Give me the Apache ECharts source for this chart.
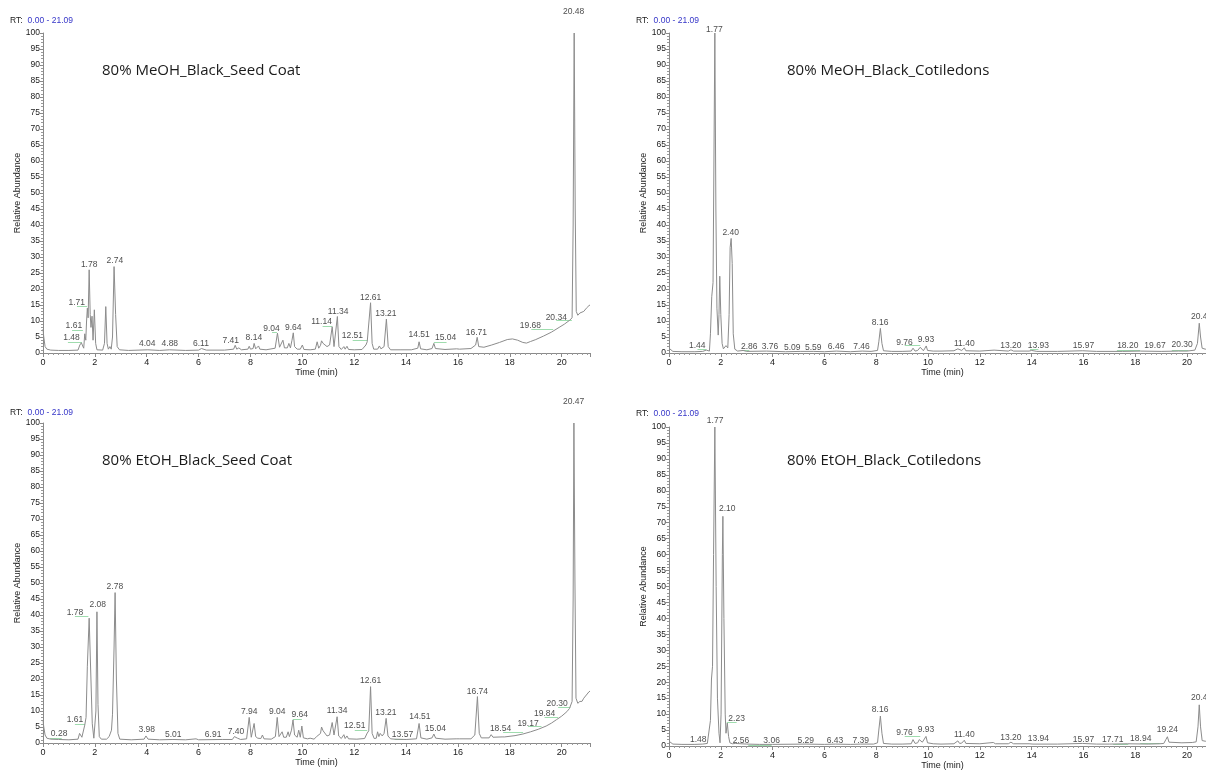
<!DOCTYPE html>
<html><head><meta charset="utf-8">
<script src="https://cdn.jsdelivr.net/npm/echarts@6/dist/echarts.min.js"></script>
<style>html,body{margin:0;padding:0;background:#fff}#c{width:1206px;height:772px}</style>
</head><body><div id="c"></div>
<script>
// ---------- DATA ----------
const titles = ["80% MeOH_Black_Seed Coat","80% MeOH_Black_Cotiledons","80% EtOH_Black_Seed Coat","80% EtOH_Black_Cotiledons"];
const rtRange = "0.00 - 21.09";
const xTickLabels = [0,2,4,6,8,10,12,14,16,18,20];
const yTickLabels = [0,5,10,15,20,25,30,35,40,45,50,55,60,65,70,75,80,85,90,95,100];

// trace: [time(min), relative abundance]
const p1Trace = [[0,7.5],[0.03,5],[0.08,2],[0.15,1.2],[0.3,0.9],[0.6,0.8],[1.0,0.8],[1.35,0.9],[1.42,2.5],[1.48,3.2],[1.53,2.2],[1.57,1.5],[1.61,6],[1.65,4],[1.68,10],[1.71,14],[1.74,11],[1.78,26],[1.82,12],[1.85,8],[1.89,11.5],[1.93,4],[1.98,13.5],[2.03,3],[2.08,1],[2.3,0.9],[2.37,3],[2.42,14.5],[2.47,3],[2.52,1.2],[2.58,2],[2.63,1.2],[2.68,5],[2.74,27],[2.8,12],[2.86,2],[2.95,1],[3.3,0.8],[4.04,1.0],[4.5,0.8],[4.88,1.0],[5.5,0.8],[6.0,0.9],[6.11,1.4],[6.3,0.9],[7.0,0.9],[7.35,1.2],[7.41,2.4],[7.47,1.2],[7.55,1.6],[7.65,1],[7.9,1.2],[7.95,2.1],[8.0,1.2],[8.1,1.4],[8.14,3],[8.2,1.3],[8.27,1.5],[8.31,2.2],[8.36,1.2],[8.6,1],[8.95,1.5],[9.04,6.2],[9.12,1.8],[9.18,1.4],[9.25,4],[9.31,1.6],[9.42,1.6],[9.48,3],[9.54,1.6],[9.6,4],[9.65,6.3],[9.7,2],[9.8,1.2],[9.87,1.6],[9.92,1.2],[10.0,2.5],[10.06,1.1],[10.3,1],[10.5,1.2],[10.57,3.5],[10.63,1.5],[10.7,2.4],[10.74,3.8],[10.8,3],[10.87,3.4],[10.95,2],[11.05,2.5],[11.15,8.2],[11.22,2],[11.28,2.5],[11.35,11.4],[11.41,2],[11.5,1.1],[11.6,2],[11.65,1.2],[11.72,2.1],[11.78,1.1],[12.0,1],[12.3,1.1],[12.45,2.5],[12.5,3.5],[12.56,4],[12.63,15.7],[12.69,3],[12.75,1.2],[12.9,1.2],[12.97,2.2],[13.03,1.3],[13.15,2],[13.24,10.6],[13.31,2],[13.4,1],[13.8,1],[14.2,1],[14.45,1.5],[14.5,3.5],[14.56,1.3],[14.8,1],[15.0,1.4],[15.07,3],[15.13,1.4],[15.5,1.1],[15.95,1.3],[16.0,1.7],[16.06,1.2],[16.5,1.4],[16.68,2.5],[16.74,4.9],[16.8,2],[17.0,1.8],[17.3,2.5],[17.6,3.3],[17.9,4.2],[18.1,4.4],[18.3,4],[18.5,3.3],[18.64,3.1],[18.8,3.6],[19.0,4.2],[19.3,5.3],[19.6,6.5],[19.9,8],[20.1,9],[20.3,10.2],[20.4,11],[20.44,40],[20.48,100],[20.52,45],[20.56,13],[20.62,11.8],[20.7,12.5],[20.75,12],[20.85,13],[20.95,14],[21.0,14.2],[21.05,14.8],[21.09,15]];
const p2Trace = [[0,1.5],[0.05,1],[0.15,0.5],[0.5,0.4],[1.0,0.4],[1.3,0.5],[1.44,0.9],[1.5,0.5],[1.56,0.6],[1.6,6],[1.65,17.6],[1.7,22],[1.73,55],[1.77,100],[1.81,45],[1.85,14],[1.9,5.6],[1.93,12],[1.96,24],[2.0,12],[2.05,3],[2.1,1.3],[2.15,1.8],[2.2,2.3],[2.27,1.6],[2.32,12],[2.36,33],[2.4,35.8],[2.44,28],[2.48,6],[2.54,1.2],[2.65,0.6],[2.86,0.8],[3.0,0.5],[3.76,0.6],[3.8,0.4],[4.5,0.4],[5.09,0.5],[5.59,0.5],[6.0,0.4],[6.46,0.6],[7.0,0.4],[7.46,0.6],[7.8,0.5],[8.05,0.8],[8.1,3.5],[8.16,7.7],[8.22,3],[8.28,0.7],[8.6,0.5],[9.0,0.5],[9.35,0.6],[9.42,1.5],[9.46,1.6],[9.5,0.6],[9.6,0.8],[9.65,1.4],[9.7,1.8],[9.76,1.4],[9.82,0.7],[9.88,1.5],[9.93,2.2],[9.98,0.8],[10.2,0.6],[10.5,0.6],[11.0,0.7],[11.15,1.3],[11.22,0.7],[11.3,0.8],[11.4,1.6],[11.46,0.7],[12.0,0.6],[12.55,0.9],[12.6,0.6],[13.1,0.6],[13.2,1],[13.3,0.6],[13.9,0.6],[14.0,0.8],[14.2,0.5],[15.0,0.5],[15.97,0.7],[16.5,0.5],[17.5,0.5],[18.2,0.6],[19.0,0.5],[19.67,0.6],[20.0,0.6],[20.3,0.9],[20.4,3],[20.47,9.3],[20.52,5],[20.58,1.5],[20.7,1.2],[20.9,1.1],[21.09,1.1]];
const p3Trace = [[0,7.2],[0.03,5],[0.08,2.5],[0.15,1.5],[0.3,1.2],[0.6,1.1],[1.0,1],[1.35,1.2],[1.41,3],[1.46,3.2],[1.5,1.8],[1.56,2.2],[1.61,5.6],[1.66,8],[1.71,24],[1.78,39],[1.83,25],[1.9,6],[1.96,1.5],[2.0,1.2],[2.04,10],[2.08,41],[2.12,12],[2.17,2],[2.25,1.2],[2.45,1.2],[2.55,2],[2.6,3.1],[2.64,4],[2.68,9],[2.74,30],[2.78,47],[2.83,20],[2.89,3],[2.96,1.2],[3.4,1],[3.9,1.2],[3.97,2.2],[4.05,1.2],[4.5,1],[5.01,1.1],[5.5,1],[5.9,1.3],[6.0,1],[6.91,1.1],[7.3,1.1],[7.38,2],[7.44,1.9],[7.5,1.5],[7.55,1.8],[7.62,1.1],[7.85,1.3],[7.95,8],[8.03,1.8],[8.08,2],[8.14,6.1],[8.2,2],[8.28,1.5],[8.33,2],[8.4,1.4],[8.46,2.5],[8.52,1.3],[8.8,1.2],[8.96,2],[9.03,8],[9.1,2],[9.15,1.8],[9.22,3.5],[9.28,1.8],[9.38,1.8],[9.45,3.5],[9.5,2],[9.58,4],[9.64,7.2],[9.7,2.5],[9.8,1.8],[9.86,4],[9.92,1.8],[9.98,5.3],[10.04,1.6],[10.2,1.3],[10.3,1.5],[10.45,1.2],[10.55,2],[10.6,1.5],[10.7,3],[10.74,5],[10.8,3.8],[10.86,4],[10.95,2.2],[11.05,2.5],[11.15,6.4],[11.22,2.5],[11.28,3],[11.34,8.2],[11.4,2.2],[11.5,1.4],[11.6,2.6],[11.65,1.4],[11.72,2.2],[11.78,1.3],[12.1,1.2],[12.4,1.4],[12.5,3.1],[12.56,3.8],[12.63,17.6],[12.69,3],[12.77,1.4],[12.85,1.5],[12.9,3.5],[12.95,2],[13.0,3],[13.08,2.2],[13.15,3],[13.23,7.7],[13.3,2.2],[13.4,1.3],[13.57,1.2],[14.0,1.1],[14.4,1.3],[14.5,6.1],[14.57,1.6],[14.8,1.2],[15.0,1.6],[15.07,2.8],[15.14,1.5],[15.5,1.2],[15.93,1.3],[15.98,1.8],[16.05,1.3],[16.5,1.3],[16.65,2.5],[16.75,14.5],[16.82,3],[16.9,1.6],[17.2,1.6],[17.28,2.6],[17.35,1.8],[17.7,1.9],[17.75,2.2],[17.8,1.9],[18.2,2.3],[18.5,2.8],[18.8,3.5],[19.1,4.3],[19.4,5.3],[19.6,6.2],[19.8,7.3],[20.0,8.4],[20.2,9.8],[20.3,10.8],[20.4,13],[20.44,45],[20.47,100],[20.51,50],[20.55,14],[20.62,12.4],[20.7,13],[20.78,13],[20.85,14],[20.95,15],[21.0,15.3],[21.05,16],[21.09,16.2]];
const p4Trace = [[0,1.5],[0.05,1],[0.15,0.6],[0.5,0.5],[1.0,0.5],[1.3,0.6],[1.48,0.8],[1.55,0.6],[1.6,8],[1.64,21],[1.68,25],[1.72,60],[1.77,100],[1.82,50],[1.87,15],[1.93,4],[1.97,1],[2.01,10],[2.06,60],[2.08,72],[2.12,40],[2.17,10],[2.2,4],[2.25,7.2],[2.3,3],[2.35,1],[2.45,0.7],[2.56,0.8],[3.0,0.6],[3.06,0.7],[3.5,0.5],[4.0,0.5],[5.29,0.6],[6.0,0.5],[6.43,0.6],[7.0,0.5],[7.39,0.6],[7.9,0.6],[8.05,1],[8.1,5],[8.16,9.4],[8.22,4],[8.28,0.8],[8.6,0.6],[9.0,0.6],[9.35,0.7],[9.42,2],[9.46,2.2],[9.5,0.8],[9.6,1],[9.66,2],[9.72,2.4],[9.78,1.2],[9.85,1.4],[9.92,3],[9.98,1],[10.2,0.7],[10.5,0.6],[11.0,0.7],[11.15,1.6],[11.22,0.8],[11.3,0.9],[11.4,1.8],[11.46,0.8],[12.0,0.7],[12.52,1.1],[12.6,0.7],[13.1,0.7],[13.2,1.2],[13.3,0.7],[13.9,0.7],[13.94,1],[14.05,0.6],[15.0,0.6],[15.97,0.8],[16.5,0.6],[17.0,0.6],[17.71,0.7],[18.5,0.6],[18.94,0.7],[19.1,0.8],[19.18,2],[19.24,2.9],[19.3,1.2],[19.36,0.9],[19.8,1],[20.2,1.1],[20.35,1.3],[20.42,6],[20.47,12.9],[20.52,6],[20.58,1.7],[20.7,1.5],[21.09,1.5]];

// peak labels: [label-centre time, label-centre abundance, text]
const p1Labels = [[20.46,106.6,"20.48"],[1.78,27.5,"1.78"],[2.77,28.8,"2.74"],[1.30,15.7,"1.71"],[1.19,8.4,"1.61"],[1.10,4.9,"1.48"],[4.02,2.8,"4.04"],[4.89,2.8,"4.88"],[6.09,3.0,"6.11"],[7.24,3.8,"7.41"],[8.13,4.9,"8.14"],[8.81,7.7,"9.04"],[9.65,7.9,"9.64"],[10.74,9.8,"11.14"],[11.38,12.9,"11.34"],[11.93,5.3,"12.51"],[12.63,17.3,"12.61"],[13.22,12.4,"13.21"],[14.50,5.6,"14.51"],[15.52,4.9,"15.04"],[16.71,6.5,"16.71"],[18.79,8.4,"19.68"],[19.79,11.2,"20.34"]];
const p2Labels = [[1.75,101.2,"1.77"],[2.38,37.6,"2.40"],[1.09,2.3,"1.44"],[3.10,2.0,"2.86"],[3.90,2.0,"3.76"],[4.76,1.8,"5.09"],[5.57,1.8,"5.59"],[6.45,2.0,"6.46"],[7.43,2.0,"7.46"],[8.15,9.6,"8.16"],[9.09,3.3,"9.76"],[9.92,4.1,"9.93"],[11.40,3.0,"11.40"],[13.20,2.3,"13.20"],[14.26,2.2,"13.93"],[16.00,2.2,"15.97"],[17.71,2.3,"18.20"],[18.76,2.3,"19.67"],[19.81,2.5,"20.30"],[20.56,11.3,"20.47"]];
const p3Labels = [[20.46,106.6,"20.47"],[2.77,48.8,"2.78"],[1.23,40.8,"1.78"],[2.11,43.1,"2.08"],[1.23,7.2,"1.61"],[0.62,2.8,"0.28"],[4.00,4.1,"3.98"],[5.02,2.5,"5.01"],[6.56,2.5,"6.91"],[7.44,3.5,"7.40"],[7.95,9.8,"7.94"],[9.03,9.8,"9.04"],[9.90,9.0,"9.64"],[11.34,10.0,"11.34"],[12.02,5.3,"12.51"],[12.63,19.4,"12.61"],[13.22,9.5,"13.21"],[13.86,2.5,"13.57"],[14.53,8.2,"14.51"],[15.13,4.4,"15.04"],[16.75,16.0,"16.74"],[17.64,4.6,"18.54"],[18.70,6.1,"19.17"],[19.34,9.3,"19.84"],[19.82,12.4,"20.30"]];
const p4Labels = [[1.78,101.9,"1.77"],[2.25,74.5,"2.10"],[2.61,8.7,"2.23"],[1.13,1.9,"1.48"],[2.78,1.7,"2.56"],[3.96,1.7,"3.06"],[5.28,1.7,"5.29"],[6.41,1.7,"6.43"],[7.40,1.7,"7.39"],[8.15,11.3,"8.16"],[9.09,4.2,"9.76"],[9.92,5.0,"9.93"],[11.40,3.4,"11.40"],[13.20,2.6,"13.20"],[14.26,2.4,"13.94"],[16.00,1.9,"15.97"],[17.13,1.9,"17.71"],[18.21,2.2,"18.94"],[19.24,5.0,"19.24"],[20.56,15.0,"20.47"]];

// green annotation leader segments: [time start, time end, abundance]
const p1Marks = [[0.96,1.50,3.5],[1.12,1.54,7.0],[1.31,1.70,14.5],[8.83,9.02,6.6],[10.78,11.15,8.5],[11.94,12.50,4.1],[15.07,15.56,3.5],[18.83,19.67,7.4],[19.79,20.39,10.1]];
const p2Marks = [[1.10,1.44,1.2],[2.86,3.10,1.0],[9.10,9.70,2.3],[13.94,14.26,1.3],[17.29,18.19,1.0],[19.41,20.05,1.0]];
const p3Marks = [[0.27,0.72,1.5],[1.23,1.62,5.9],[1.23,1.75,39.7],[6.56,6.89,1.25],[9.63,9.98,7.5],[12.02,12.50,3.9],[13.56,13.88,1.25],[17.74,18.51,3.5],[18.70,19.22,5.1],[19.34,19.86,8.1],[19.86,20.33,11.3]];
const p4Marks = [[2.23,2.61,7.3],[3.06,3.96,0.3],[9.10,9.70,2.9],[17.15,17.73,0.6],[18.19,18.96,0.9]];

// ---------- LAYOUT ----------
const traces = [p1Trace,p2Trace,p3Trace,p4Trace];
const labelSets = [p1Labels,p2Labels,p3Labels,p4Labels];
const markSets = [p1Marks,p2Marks,p3Marks,p4Marks];
// right-hand panels run past the picture edge in the reference: show only the visible part
const xMax = [21.09, 20.73, 21.09, 20.73];
const grids = [
  {left:43, top:33, width:547, height:320},
  {left:669, top:33, width:537, height:320},
  {left:43, top:423, width:547, height:320},
  {left:669, top:427, width:537, height:319}
];
const rtPos = [{left:10,top:12},{left:636,top:12},{left:10,top:404},{left:636,top:405}];
const titlePos = [{left:102,top:63},{left:787,top:63},{left:102,top:453},{left:787,top:453}];
const xNamePad = [[0,0,0,0],[0,0,0,10],[0,0,0,0],[0,0,0,10]];

const FONT = '"Liberation Sans", Arial, sans-serif';
const option = {
  backgroundColor:'#ffffff',
  animation:false,
  title:[], grid:[], xAxis:[], yAxis:[], series:[]
};
for (let i=0;i<4;i++){
  option.title.push({left:rtPos[i].left, top:rtPos[i].top, padding:0, text:'{a|RT:} {b|'+rtRange+'}',
    textStyle:{fontWeight:'normal',rich:{a:{color:'#222',fontSize:8.5,fontWeight:'normal',fontFamily:FONT},b:{color:'#3535c8',fontSize:8.5,fontWeight:'normal',fontFamily:FONT}}}});
  option.title.push({left:titlePos[i].left, top:titlePos[i].top, padding:0, text:titles[i],
    textStyle:{color:'#1a1a1a',fontSize:15,fontWeight:'normal',fontFamily:'"Open Sans", "Noto Sans", sans-serif'}});
  option.grid.push(Object.assign({containLabel:false}, grids[i]));
  option.xAxis.push({type:'value', gridIndex:i, min:0, max:xMax[i], interval:2,
    name:'Time (min)', nameLocation:'middle', nameGap:15,
    nameTextStyle:{color:'#222',fontSize:9,fontFamily:FONT,padding:xNamePad[i]},
    axisLine:{lineStyle:{color:'#8a8a8a',width:1}},
    axisTick:{show:true,length:4,lineStyle:{color:'#8a8a8a'}},
    minorTick:{show:true,splitNumber:10,length:2,lineStyle:{color:'#9a9a9a'}},
    splitLine:{show:false},
    axisLabel:{color:'#1a1a1a',fontSize:9,fontFamily:FONT,margin:5,showMaxLabel:false,
      formatter:v=> xTickLabels.indexOf(Math.round(v*100)/100)>=0 ? String(v) : ''}});
  option.yAxis.push({type:'value', gridIndex:i, min:0, max:100, interval:5,
    name:'Relative Abundance', nameLocation:'middle', nameGap:20.5, nameRotate:90,
    nameTextStyle:{color:'#222',fontSize:9,fontFamily:FONT},
    axisLine:{show:true,lineStyle:{color:'#8a8a8a',width:1}},
    axisTick:{show:true,length:3,lineStyle:{color:'#8a8a8a'}},
    minorTick:{show:true,splitNumber:5,length:2,lineStyle:{color:'#9a9a9a'}},
    splitLine:{show:false},
    axisLabel:{color:'#1a1a1a',fontSize:8.5,fontFamily:FONT,margin:3,
      formatter:v=> yTickLabels.indexOf(v)>=0 ? String(v) : ''}});
  option.series.push({type:'line', xAxisIndex:i, yAxisIndex:i, data:traces[i],
    showSymbol:false, symbol:'none', clip:false, smooth:false,
    lineStyle:{color:'#8c8c8c',width:1}, silent:true});
  option.series.push({type:'lines', coordinateSystem:'cartesian2d', xAxisIndex:i, yAxisIndex:i,
    data:markSets[i].map(m=>({coords:[[m[0],m[2]],[m[1],m[2]]]})),
    lineStyle:{color:'#9fdcae',width:1,opacity:1}, silent:true});
  option.series.push({type:'scatter', xAxisIndex:i, yAxisIndex:i, symbolSize:0, clip:false, silent:true,
    data:labelSets[i].map(l=>({value:[l[0],l[1]],name:l[2]})),
    label:{show:true,position:'inside',formatter:'{b}',color:'#1a1a1a',fontSize:8.5,fontFamily:FONT}});
}
const chart = echarts.init(document.getElementById('c'), null, {renderer:'canvas'});
chart.setOption(option);
</script>
</body></html>
